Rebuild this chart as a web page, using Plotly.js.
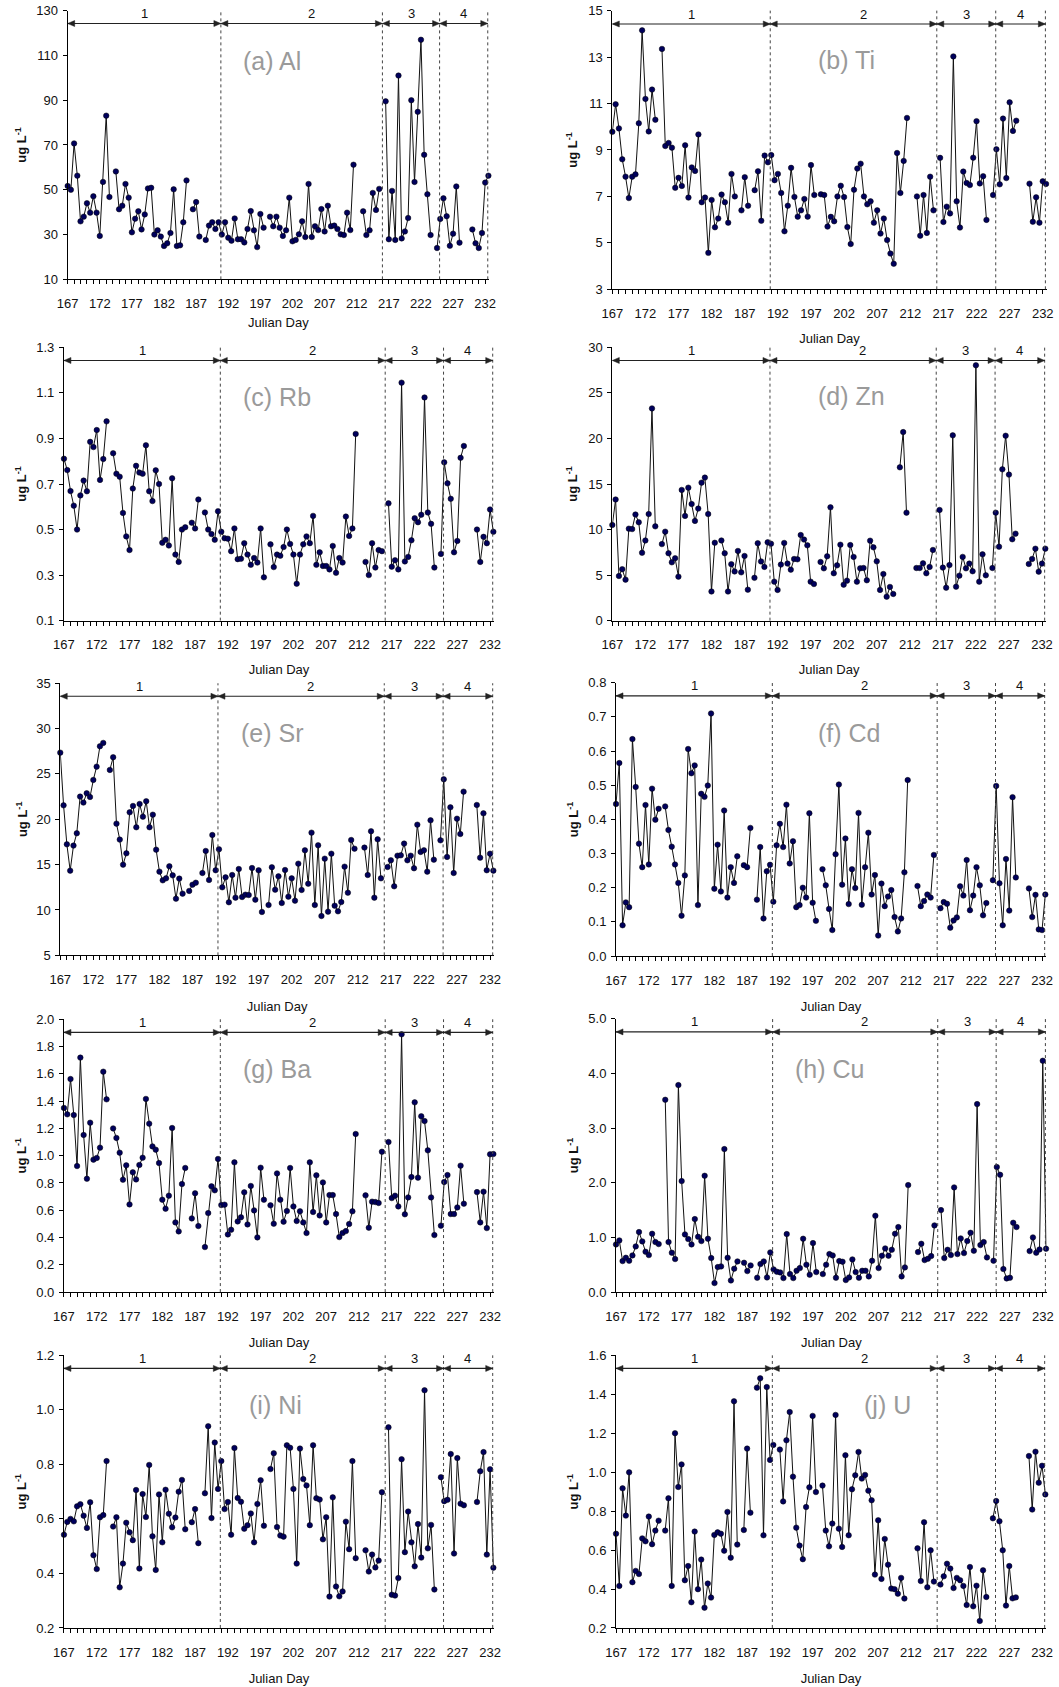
<!DOCTYPE html>
<html><head><meta charset="utf-8">
<script src="https://cdn.plot.ly/plotly-3.0.1.min.js"></script>
<style>html,body{margin:0;padding:0;background:#fff}#chart{width:1059px;height:1687px}</style>
</head><body><div id="chart"></div>
<script>
// Sampling times: twice a day, Julian day 167 to 232.5 (categories of the x axis)
const julianDay = Array.from({length: 132}, (_, i) => 167 + i / 2);
const N = null;

const Al = [51.7,50.0,70.7,56.3,35.9,38.0,44.0,39.8,47.1,39.8,
29.4,53.5,83.1,46.8,N,58.2,41.3,42.9,52.6,46.5,
31.0,37.1,40.4,32.3,39.0,50.6,50.9,30.0,31.9,29.1,
24.9,26.1,30.7,50.2,24.9,25.2,35.5,54.2,N,41.3,
44.5,29.1,N,27.6,34.0,35.5,32.5,35.5,30.0,35.5,
28.6,27.3,37.2,27.9,27.9,26.5,32.5,40.5,31.9,24.4,
39.2,33.1,N,38.0,33.7,38.0,33.1,29.4,31.9,46.5,
27.0,27.6,30.1,35.9,28.9,52.6,28.9,33.7,32.0,41.4,
31.4,42.9,33.7,34.0,32.5,30.1,29.8,39.8,32.0,61.2,
N,N,40.4,29.8,31.9,48.6,41.0,50.4,N,89.5,
27.9,49.5,27.6,101.0,28.3,31.4,37.4,90.0,53.5,84.8,
117.0,65.6,48.0,29.8,N,24.0,37.0,46.2,38.2,25.0,
30.4,51.5,26.4,N,N,N,32.3,26.1,24.0,30.7,
53.2,56.3];

const Ti = [9.78,10.97,9.93,8.6,7.85,6.93,7.85,7.95,10.15,14.15,
11.2,9.8,11.6,10.3,N,13.35,9.17,9.3,9.1,7.37,
7.8,7.45,9.2,6.95,8.25,8.1,9.67,6.75,6.95,4.57,
6.85,5.67,6.05,7.08,6.75,5.87,7.97,7.0,N,6.4,
7.83,6.6,N,7.27,8.08,5.95,8.76,8.47,8.78,7.7,
7.97,7.15,5.5,6.6,8.23,6.98,6.13,6.4,6.89,6.13,
8.35,7.06,N,7.09,7.06,5.7,6.12,5.93,7.0,7.46,
6.97,5.68,4.95,7.29,8.2,8.41,7.0,6.66,6.79,5.87,
6.4,5.4,6.05,5.12,4.54,4.1,8.87,7.15,8.53,10.38,
N,N,7.0,5.31,7.06,5.43,7.85,6.4,N,8.66,
5.9,6.56,6.27,13.03,6.79,5.66,8.07,7.58,7.49,8.67,
10.24,7.56,7.87,5.99,N,7.06,9.03,7.52,10.35,7.79,
11.05,9.82,10.26,N,N,N,7.55,5.91,6.96,5.87,
7.65,7.54];

const Rb = [0.811,0.761,0.669,0.605,0.5,0.65,0.715,0.668,0.885,0.862,
0.937,0.718,0.81,0.975,N,0.835,0.745,0.732,0.573,0.47,
0.41,0.68,0.78,0.75,0.745,0.87,0.668,0.625,0.76,0.7,
0.442,0.455,0.43,0.725,0.39,0.358,0.5,0.51,N,0.53,
0.505,0.632,N,0.575,0.5,0.48,0.455,0.58,0.49,0.462,
0.46,0.405,0.505,0.37,0.372,0.44,0.39,0.345,0.375,0.355,
0.505,0.29,N,0.435,0.335,0.39,0.385,0.423,0.5,0.437,
0.39,0.262,0.39,0.435,0.47,0.44,0.56,0.345,0.4,0.34,
0.34,0.325,0.428,0.31,0.375,0.355,0.557,0.472,0.505,0.92,
N,N,0.358,0.3,0.44,0.333,0.41,0.405,N,0.615,
0.337,0.365,0.325,1.145,0.36,0.38,0.453,0.55,0.532,0.565,
1.08,0.575,0.525,0.333,N,0.393,0.795,0.703,0.635,0.4,
0.45,0.815,0.867,N,N,N,0.5,0.358,0.468,0.44,
0.588,0.49];

const Zn = [10.5,13.3,4.9,5.65,4.5,10.1,10.05,11.65,10.8,7.45,
8.8,11.7,23.3,10.35,N,8.4,9.77,7.4,6.4,6.85,
4.83,14.35,11.5,14.6,12.8,10.95,12.3,15.15,15.7,11.7,
3.2,8.55,N,8.8,7.4,3.2,6.2,5.4,7.65,5.3,
7.1,3.4,N,4.7,8.5,6.5,5.9,8.6,8.45,4.28,
3.37,6.15,8.53,6.26,5.6,6.77,6.73,9.4,8.9,8.27,
4.28,4.02,N,6.44,5.74,7.06,12.44,5.2,6.07,8.34,
3.95,4.39,8.3,7.0,4.28,5.74,5.78,4.43,8.78,8.05,
6.51,3.37,5.12,2.63,3.7,2.93,N,16.83,20.7,11.85,
N,N,5.78,5.78,6.29,5.2,5.9,7.76,N,12.15,
5.82,3.62,6.1,20.34,3.73,4.94,7.0,5.74,6.26,5.42,
28.03,4.28,7.28,4.98,N,5.78,11.85,8.12,16.61,20.3,
16.03,8.93,9.55,N,N,N,6.22,6.77,7.9,5.38,
6.26,7.9];

const Sr = [27.35,21.54,17.24,14.34,17.1,18.46,22.5,21.84,22.87,22.46,
24.34,25.8,28.05,28.42,N,25.44,26.84,19.52,17.76,15.0,
16.25,20.77,21.47,19.12,21.69,20.29,21.99,19.12,20.51,16.65,
14.23,13.27,13.49,14.82,13.82,11.25,13.46,11.8,N,12.1,
12.79,13.01,N,14.08,16.51,13.31,18.27,14.38,16.69,12.5,
13.6,10.85,13.86,11.36,14.52,11.43,11.69,11.65,14.63,11.14,
14.38,9.78,N,10.55,14.71,12.24,13.71,10.77,14.41,11.47,
13.49,11.03,15.11,12.21,16.58,12.9,18.53,10.55,17.13,9.34,
15.66,9.82,16.21,10.48,9.85,10.88,14.78,11.91,17.72,16.76,
N,N,16.88,13.86,18.68,11.36,17.79,13.49,N,14.74,
15.48,12.61,15.99,16.03,17.32,15.48,15.99,14.6,19.41,16.4,
16.58,14.23,19.89,15.55,N,17.68,24.41,15.85,21.32,14.08,
20.07,18.38,23.05,N,N,N,21.58,15.77,20.66,14.38,
16.21,14.34];

const Cd = [0.445,0.565,0.09,0.157,0.143,0.635,0.495,0.329,0.26,0.442,
0.268,0.49,0.399,0.431,N,0.438,0.369,0.32,0.268,0.214,
0.118,0.236,0.606,0.535,0.558,0.149,0.475,0.466,0.499,0.71,
0.197,0.326,0.189,0.426,0.171,0.26,0.214,0.292,N,0.266,
0.26,0.375,N,0.165,0.319,0.11,0.248,0.267,0.159,0.324,
0.387,0.319,0.443,0.271,0.336,0.143,0.149,0.2,0.171,0.418,
0.156,0.103,N,0.254,0.207,0.138,0.076,0.298,0.502,0.209,
0.344,0.152,0.254,0.199,0.419,0.15,0.26,0.361,0.18,0.237,
0.06,0.212,0.146,0.174,0.193,0.114,0.072,0.11,0.245,0.515,
N,N,0.205,0.146,0.161,0.18,0.171,0.296,N,0.14,
0.158,0.153,0.083,0.104,0.113,0.204,0.177,0.281,0.134,0.177,
0.26,0.207,0.119,0.155,N,0.222,0.498,0.213,0.09,0.284,
0.133,0.465,0.23,N,N,N,0.198,0.114,0.179,0.078,
0.076,0.18];

const Ba = [1.35,1.303,1.562,1.298,0.924,1.719,1.152,0.831,1.242,0.971,
0.983,1.059,1.616,1.413,N,1.2,1.13,1.022,0.824,0.929,
0.643,0.878,0.826,0.932,0.985,1.416,1.235,1.068,1.044,0.946,
0.677,0.611,0.707,1.203,0.511,0.445,0.792,0.91,N,0.54,
0.724,0.484,N,0.33,0.579,0.775,0.746,0.976,0.638,0.641,
0.423,0.457,0.951,0.518,0.548,0.731,0.496,0.778,0.599,0.401,
0.912,0.677,N,0.636,0.501,0.87,0.677,0.516,0.594,0.91,
0.628,0.521,0.592,0.511,0.433,0.951,0.587,0.856,0.562,0.804,
0.511,0.711,0.711,0.572,0.403,0.433,0.447,0.499,0.592,1.159,
N,N,0.709,0.472,0.663,0.66,0.653,1.029,N,1.1,
0.689,0.707,0.628,1.89,0.57,0.694,0.844,1.391,0.839,1.289,
1.254,1.039,0.694,0.418,N,0.487,0.807,0.858,0.572,0.572,
0.621,0.927,0.648,N,N,N,0.733,0.511,0.736,0.469,
1.01,1.012];

const Cu = [0.872,0.945,0.567,0.628,0.573,0.671,0.835,1.098,0.927,0.738,
0.677,1.067,0.915,0.878,N,3.518,0.915,0.72,0.604,3.787,
2.03,1.055,0.97,0.872,1.335,1.012,0.933,2.128,0.976,0.622,
0.165,0.457,0.47,2.616,0.628,0.213,0.427,0.561,N,0.537,
0.384,0.488,N,0.262,0.512,0.561,0.268,0.726,0.415,0.372,
0.36,0.256,1.061,0.329,0.256,0.39,0.439,0.976,0.5,0.317,
0.896,0.366,N,0.329,0.5,0.695,0.671,0.262,0.567,0.555,
0.22,0.268,0.598,0.366,0.262,0.39,0.39,0.287,0.573,1.396,
0.439,0.665,0.799,0.665,0.774,1.067,1.189,0.287,0.451,1.957,
N,N,0.732,0.884,0.585,0.61,0.659,1.22,N,1.5,
0.622,0.774,0.677,1.915,0.695,0.982,0.713,0.933,1.085,0.756,
3.439,0.86,0.915,0.634,N,0.573,2.287,2.146,0.421,0.25,
0.262,1.268,1.189,N,N,N,0.75,1.0,0.72,0.78,
4.232,0.793];

const Ni = [0.542,0.589,0.6,0.591,0.646,0.654,0.612,0.567,0.661,0.467,
0.416,0.606,0.614,0.812,N,0.572,0.606,0.349,0.436,0.586,
0.551,0.522,0.706,0.418,0.691,0.607,0.798,0.536,0.413,0.69,
0.514,0.707,0.619,0.569,0.605,0.7,0.743,0.562,N,0.588,
0.636,0.511,N,0.694,0.94,0.603,0.88,0.71,0.812,0.636,
0.662,0.542,0.86,0.677,0.663,0.564,0.577,0.62,0.514,0.655,
0.742,0.575,N,0.783,0.841,0.57,0.539,0.535,0.87,0.861,
0.71,0.436,0.858,0.746,0.723,0.577,0.87,0.676,0.671,0.525,
0.606,0.315,0.679,0.352,0.316,0.334,0.59,0.489,0.812,0.456,
N,N,0.485,0.407,0.469,0.422,0.447,0.698,N,0.936,
0.322,0.319,0.383,0.819,0.478,0.627,0.514,0.426,0.581,0.458,
1.072,0.492,0.578,0.341,N,0.753,0.665,0.67,0.838,0.473,
0.823,0.656,0.65,N,N,N,0.662,0.775,0.845,0.469,
0.782,0.421];

const U = [0.684,0.416,0.917,0.777,0.999,0.435,0.493,0.477,0.66,0.645,
0.772,0.63,0.7,0.751,N,0.7,0.866,0.416,1.2,0.924,
1.04,0.445,0.518,0.332,0.695,0.399,0.551,0.304,0.428,0.356,
0.678,0.691,0.684,0.597,0.796,0.561,1.364,0.628,N,0.703,
1.121,0.792,N,1.434,1.482,0.676,1.437,1.063,1.14,N,
1.116,0.85,1.164,1.309,0.977,0.715,0.623,0.553,0.821,0.922,
1.289,0.898,N,0.931,0.7,0.619,0.736,1.294,0.71,0.616,
1.087,0.676,0.912,0.984,1.104,0.967,0.986,0.905,0.856,0.474,
0.753,0.452,0.657,0.525,0.402,0.399,0.376,0.457,0.351,N,
N,N,0.609,0.441,0.743,0.409,0.599,0.438,N,0.423,
0.465,0.53,0.505,0.405,0.457,0.445,0.416,0.318,0.513,0.311,
0.417,0.236,0.496,0.359,N,0.763,0.852,0.748,0.599,0.315,
0.518,0.352,0.357,N,N,N,1.083,0.808,1.105,0.946,
1.033,0.886];

const panelLabels = ['(a) Al','(b) Ti','(c) Rb','(d) Zn','(e) Sr','(f) Cd','(g) Ba','(h) Cu','(i) Ni','(j) U'];
const seriesList = [Al, Ti, Rb, Zn, Sr, Cd, Ba, Cu, Ni, U];
const periodNames = ['1','2','3','4'];
const periodBounds = [167, 190.85, 216.0, 224.9, 232.4];
const periodLabelX = [179.0, 204.9, 220.5, 228.6];
const xTickVals = [167,172,177,182,187,192,197,202,207,212,217,222,227,232];
const yTitle = 'ug L<sup>-1</sup>';
const xTitle = 'Julian Day';

// layout geometry per panel
const geom = [
 {x:[0.0639,0.4618], y:[0.8344,0.9937], yr:[10,130], dt:20, fmt:'',    lab:[0.485,0.813], ys:6, xs:7},
 {x:[0.5782,0.9884], y:[0.8285,0.9937], yr:[3,15],   dt:2,  fmt:'',    lab:[0.539,0.823], ys:7, xs:13},
 {x:[0.0604,0.4665], y:[0.6321,0.7941], yr:[0.1,1.3],dt:0.2,fmt:'.1f', lab:[0.495,0.818], ys:6, xs:13},
 {x:[0.5782,0.9877], y:[0.6321,0.7941], yr:[0,30],   dt:5,  fmt:'',    lab:[0.551,0.821], ys:7, xs:13},
 {x:[0.0569,0.4665], y:[0.4337,0.5950], yr:[5,35],   dt:5,  fmt:'',    lab:[0.489,0.818], ys:5, xs:15},
 {x:[0.5817,0.9877], y:[0.4333,0.5953], yr:[0,0.8],  dt:0.1,fmt:'.1f', lab:[0.542,0.817], ys:6, xs:15},
 {x:[0.0604,0.4665], y:[0.2341,0.3958], yr:[0,2],    dt:0.2,fmt:'.1f', lab:[0.495,0.819], ys:6, xs:15},
 {x:[0.5817,0.9884], y:[0.2341,0.3961], yr:[0,5],    dt:1,  fmt:'.1f', lab:[0.495,0.816], ys:6, xs:15},
 {x:[0.0604,0.4665], y:[0.0350,0.1966], yr:[0.2,1.2],dt:0.2,fmt:'.1f', lab:[0.493,0.818], ys:6, xs:15},
 {x:[0.5817,0.9877], y:[0.0350,0.1966], yr:[0.2,1.6],dt:0.2,fmt:'.1f', lab:[0.631,0.818], ys:6, xs:15}
];

const FONT = 'Liberation Sans, Arial, sans-serif';
const ARROW_Y = 0.952;
const traces = [];
const layout = {
  width: 1059, height: 1687, autosize: false,
  margin: {l:0, r:0, t:0, b:0},
  paper_bgcolor: '#fff', plot_bgcolor: '#fff',
  showlegend: false,
  font: {family: FONT, size: 13, color: '#111'},
  annotations: [], shapes: []
};

seriesList.forEach((vals, k) => {
  const n = k + 1;
  const xa = 'x' + (n === 1 ? '' : n), ya = 'y' + (n === 1 ? '' : n);
  const xk = 'xaxis' + (n === 1 ? '' : n), yk = 'yaxis' + (n === 1 ? '' : n);
  const g = geom[k];
  traces.push({
    x: julianDay, y: vals, xaxis: xa, yaxis: ya,
    type: 'scatter', mode: 'lines+markers', connectgaps: false,
    cliponaxis: false,
    line: {color: '#111', width: 1},
    marker: {size: 5.5, color: '#00005c', line: {color: '#000', width: 0.5}},
    hoverinfo: 'x+y'
  });
  layout[xk] = {
    domain: g.x, anchor: ya, range: [167, 232.6],
    title: {text: xTitle, standoff: g.xs, font: {family: FONT, size: 13, color: '#111'}},
    showgrid: false, zeroline: false, showline: true, linecolor: '#000', linewidth: 1,
    tickmode: 'array', tickvals: xTickVals, ticks: 'outside', ticklen: 4, tickcolor: '#000',
    ticklabelstandoff: 8,
    minor: {tickmode: 'linear', tick0: 167, dtick: 1, ticks: 'outside', ticklen: 4, tickcolor: '#000', showgrid: false},
    tickfont: {family: FONT, size: 13, color: '#111'}, fixedrange: true
  };
  layout[yk] = {
    domain: g.y, anchor: xa, range: g.yr,
    title: {text: yTitle, standoff: g.ys, font: {family: FONT, size: 13, color: '#111', weight: 'bold'}},
    showgrid: false, zeroline: false, showline: true, linecolor: '#000', linewidth: 1,
    tickmode: 'linear', tick0: g.yr[0], dtick: g.dt, tickformat: g.fmt,
    ticks: 'outside', ticklen: 4, tickcolor: '#000', ticklabelstandoff: 2,
    tickfont: {family: FONT, size: 13, color: '#111'}, fixedrange: true
  };
  const xd = xa + ' domain', yd = ya + ' domain';
  // panel label
  layout.annotations.push({xref: xd, yref: yd, x: g.lab[0], y: g.lab[1], text: panelLabels[k],
    showarrow: false, xanchor: 'center', yanchor: 'middle', font: {family: FONT, size: 25, color: '#9a9a9a'}});
  // period boundaries
  periodBounds.slice(1).forEach(b => {
    layout.shapes.push({type: 'line', xref: xa, yref: yd, x0: b, x1: b, y0: 0, y1: 1,
      line: {color: '#444', width: 1, dash: 'dot'}});
  });
  // period double-headed arrows (line + two triangular heads) and labels
  for (let p = 0; p < 4; p++) {
    const a = periodBounds[p], b = periodBounds[p + 1];
    layout.shapes.push({type: 'line', xref: xa, yref: yd, x0: a, x1: b, y0: ARROW_Y, y1: ARROW_Y,
      line: {color: '#222', width: 1.1}});
    layout.shapes.push({type: 'path', xref: xa, yref: yd, xsizemode: 'pixel', ysizemode: 'pixel',
      xanchor: a, yanchor: ARROW_Y, path: 'M 0 0 L 7 3 L 7 -3 Z',
      fillcolor: '#222', line: {color: '#222', width: 0.5}});
    layout.shapes.push({type: 'path', xref: xa, yref: yd, xsizemode: 'pixel', ysizemode: 'pixel',
      xanchor: b, yanchor: ARROW_Y, path: 'M 0 0 L -7 3 L -7 -3 Z',
      fillcolor: '#222', line: {color: '#222', width: 0.5}});
    layout.annotations.push({xref: xa, yref: yd, x: periodLabelX[p], y: ARROW_Y, yshift: 10,
      text: periodNames[p], showarrow: false, xanchor: 'center', yanchor: 'middle',
      font: {family: FONT, size: 13, color: '#111'}});
  }
});

Plotly.newPlot('chart', traces, layout, {staticPlot: true, displayModeBar: false});
</script>
</body></html>
